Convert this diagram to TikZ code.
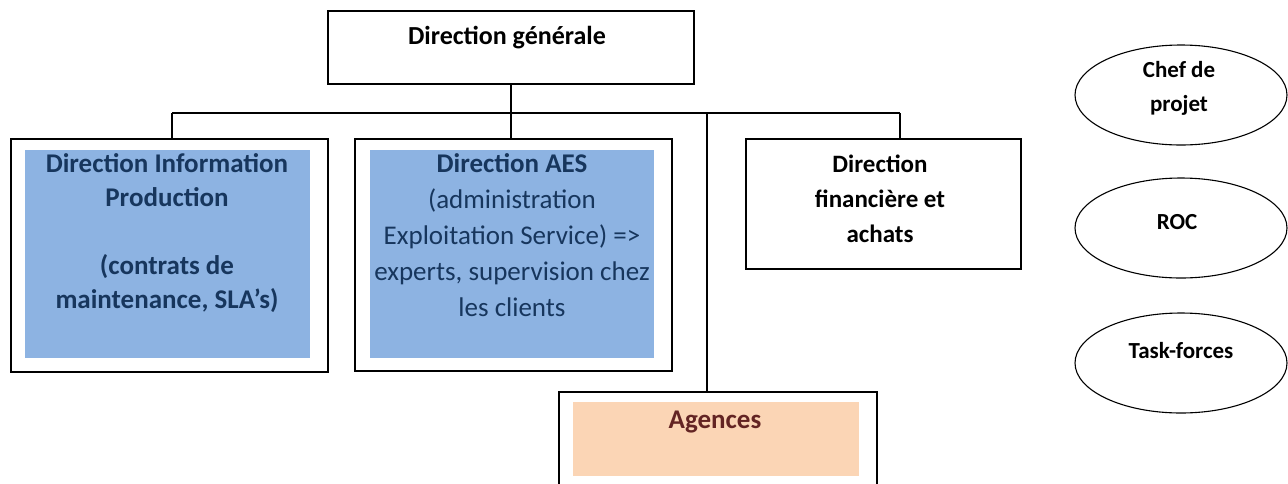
\documentclass[tikz,border=0pt]{standalone}
\usepackage{fontspec}
\setmainfont{Carlito}
\usetikzlibrary{shapes.geometric}
\definecolor{boxblue}{HTML}{8DB3E2}
\definecolor{navy}{HTML}{17365D}
\definecolor{peach}{HTML}{FBD5B5}
\definecolor{maroon}{HTML}{632423}
\tikzset{
  outer/.style={draw=black, line width=1.6pt, rectangle, anchor=north west, inner sep=0pt},
  inner/.style={fill=#1, draw=none, rectangle, anchor=north west, inner sep=0pt},
  conn/.style={draw=black, line width=1.6pt},
  oval/.style={draw=black, line width=1.1pt, ellipse, minimum width=212pt, minimum height=100pt, inner sep=0pt},
  lbl/.style={align=center, inner sep=0pt, font=\fontsize{25}{34}\selectfont},
}
\begin{document}
\begin{tikzpicture}[x=1pt,y=-1pt]
\useasboundingbox (0,0) rectangle (1288,483);
% boxes
\node[outer, minimum width=366pt, minimum height=73pt] (top) at (327,10) {};
\node[outer, minimum width=317pt, minimum height=233pt] (b1) at (10,138) {};
\node[inner=boxblue, minimum width=285pt, minimum height=208pt] (b1i) at (25,150) {};
\node[outer, minimum width=317pt, minimum height=232pt] (b2) at (354,138) {};
\node[inner=boxblue, minimum width=284pt, minimum height=208pt] (b2i) at (370,150) {};
\node[outer, minimum width=275pt, minimum height=130pt] (b3) at (745,138) {};
\node[outer, minimum width=318pt, minimum height=130pt] (ag) at (558,391) {};
\node[inner=peach, minimum width=286pt, minimum height=74pt] (agi) at (573,402) {};
% texts
\node[lbl, font=\fontsize{26}{34}\selectfont\bfseries] (ttop) at (507,38) {Direction générale};
\node[lbl, anchor=north, text=navy, font=\fontsize{27}{34}\selectfont\bfseries] (t1) at (167,153)
  {Direction Information\\Production\\[34pt](contrats de\\maintenance, SLA’s)};
\node[lbl, anchor=north, text=navy, font=\fontsize{27}{36}\selectfont] (t2) at (512,153)
  {\textbf{Direction AES}\\(administration\\Exploitation Service) =>\\experts, supervision chez\\les clients};
\node[lbl, anchor=north, font=\fontsize{25}{35}\selectfont\bfseries] (t3) at (880,155)
  {Direction\\financière et\\achats};
\node[lbl, text=maroon, font=\fontsize{27}{34}\selectfont\bfseries] (tag) at (715,422) {Agences};
% ellipses
\node[oval] (e1) at (1181,95) {};
\node[oval] (e2) at (1181,228) {};
\node[oval] (e3) at (1181,363) {};
\node[lbl, anchor=north, font=\fontsize{23}{34}\selectfont\bfseries] (te1) at (1179,61) {Chef de\\projet};
\node[lbl, font=\fontsize{23}{34}\selectfont\bfseries] (te2) at (1177,222) {ROC};
\node[lbl, font=\fontsize{23}{34}\selectfont\bfseries] (te3) at (1181,351) {Task-forces};
% connectors
\coordinate (busL) at (172,113);
\coordinate (busR) at (900,113);
\coordinate (busA) at (707,113);
\draw[conn] (busL) -- (busR);
\draw[conn] (top.south) -- (top.south |- b2.north);
\draw[conn] (busL) -- (busL |- b1.north);
\draw[conn] (busR) -- (busR |- b3.north);
\draw[conn] (busA) -- (busA |- ag.north);
\end{tikzpicture}
\end{document}
